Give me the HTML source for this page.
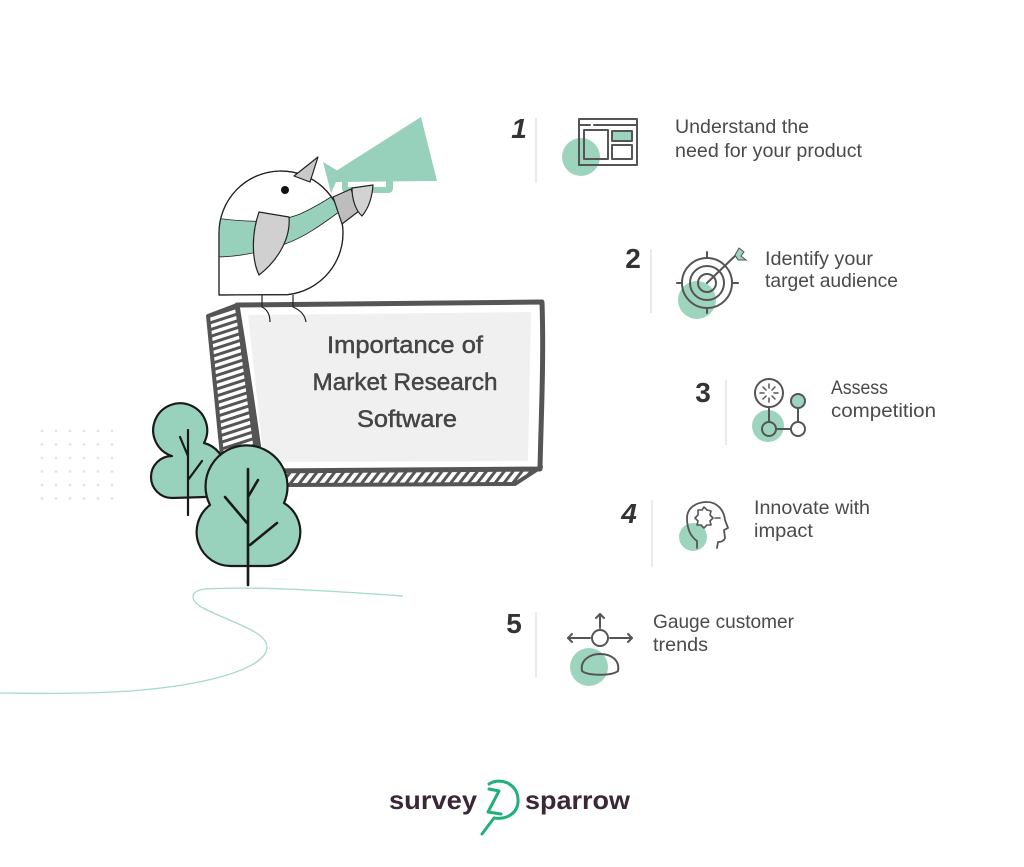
<!DOCTYPE html>
<html><head><meta charset="utf-8"><style>
html,body{margin:0;padding:0;background:#fff;}
svg{display:block;}
text{font-family:"Liberation Sans",sans-serif;}
</style></head><body>
<svg width="1024" height="867" viewBox="0 0 1024 867" xmlns="http://www.w3.org/2000/svg">
<defs>
<pattern id="hL" width="10" height="6.5" patternUnits="userSpaceOnUse" patternTransform="rotate(-18)"><rect width="10" height="6.5" fill="#fff"/><rect width="10" height="3" fill="#555"/></pattern>
<pattern id="hB" width="7" height="10" patternUnits="userSpaceOnUse" patternTransform="rotate(38)"><rect width="7" height="10" fill="#fff"/><rect width="3" height="10" fill="#555"/></pattern>
<clipPath id="body"><path d="M219,295 L219,233 A62,62 0 1 1 288,294.6 L219,295 Z"/></clipPath>
</defs>
<rect width="1024" height="867" fill="#fff"/>

<!-- dot grid -->
<g fill="#e4e4e4">
<circle cx="42" cy="431" r="1.4"/><circle cx="56" cy="431" r="1.4"/><circle cx="70" cy="431" r="1.4"/><circle cx="84" cy="431" r="1.4"/><circle cx="98" cy="431" r="1.4"/><circle cx="112" cy="431" r="1.4"/>
<circle cx="42" cy="444.5" r="1.4"/><circle cx="56" cy="444.5" r="1.4"/><circle cx="70" cy="444.5" r="1.4"/><circle cx="84" cy="444.5" r="1.4"/><circle cx="98" cy="444.5" r="1.4"/><circle cx="112" cy="444.5" r="1.4"/>
<circle cx="42" cy="458" r="1.4"/><circle cx="56" cy="458" r="1.4"/><circle cx="70" cy="458" r="1.4"/><circle cx="84" cy="458" r="1.4"/><circle cx="98" cy="458" r="1.4"/><circle cx="112" cy="458" r="1.4"/>
<circle cx="42" cy="471.5" r="1.4"/><circle cx="56" cy="471.5" r="1.4"/><circle cx="70" cy="471.5" r="1.4"/><circle cx="84" cy="471.5" r="1.4"/><circle cx="98" cy="471.5" r="1.4"/><circle cx="112" cy="471.5" r="1.4"/>
<circle cx="42" cy="485" r="1.4"/><circle cx="56" cy="485" r="1.4"/><circle cx="70" cy="485" r="1.4"/><circle cx="84" cy="485" r="1.4"/><circle cx="98" cy="485" r="1.4"/><circle cx="112" cy="485" r="1.4"/>
<circle cx="42" cy="498.5" r="1.4"/><circle cx="56" cy="498.5" r="1.4"/><circle cx="70" cy="498.5" r="1.4"/><circle cx="84" cy="498.5" r="1.4"/><circle cx="98" cy="498.5" r="1.4"/><circle cx="112" cy="498.5" r="1.4"/>
</g>

<!-- green ground curve -->
<path d="M403,596 C330,591 260,586 205,589 C188,591 190,602 205,609 C235,624 268,632 267,648 C265,668 210,685 130,691 C70,695 20,693 0,693" fill="none" stroke="#a6dbc7" stroke-width="1.3"/>

<!-- sign -->
<polygon points="208,316 237,305 256,452 222,456" fill="url(#hL)" stroke="#555" stroke-width="4" stroke-linejoin="round"/>
<polygon points="268,470 541,467 515,484 285,485" fill="url(#hB)" stroke="#555" stroke-width="4" stroke-linejoin="round"/>
<path d="M237,305 L542,302 C544,360 541,420 540,469 L262,471 C255,420 246,360 237,305 Z" fill="#fff" stroke="#555" stroke-width="5" stroke-linejoin="round"/>
<polygon points="248,315 531,312 528,461 264,462" fill="#f0f0f0"/>
<g fill="#454545" stroke="#454545" stroke-width="0.5" font-size="24.5" text-anchor="middle">
<text x="405" y="353" textLength="156" lengthAdjust="spacingAndGlyphs">Importance of</text>
<text x="405" y="390" textLength="185" lengthAdjust="spacingAndGlyphs">Market Research</text>
<text x="407" y="427" textLength="100" lengthAdjust="spacingAndGlyphs">Software</text>
</g>

<!-- bird -->
<g stroke="#222" stroke-width="1.2" stroke-linejoin="round">
<polygon points="336,171 421,117 437,181 336,182" fill="#97d1bb" stroke="none"/>
<polygon points="323,162 338,171 336,182 331,193" fill="#97d1bb" stroke="none"/>
<path d="M342,181 L342,188 Q342,193 347,193 L388,193 Q393,193 393,188 L393,181 L386,181 L386,187 L348,187 L348,181 Z" fill="#97d1bb" stroke="none"/>
<path d="M219,295 L219,233 A62,62 0 1 1 288,294.6 L219,295 Z" fill="#fff"/>
<path clip-path="url(#body)" d="M215,218 C245,222 275,224 300,214 C320,205 335,195 350,184 L350,204 C330,218 310,235 285,244 C260,252 240,257 215,257 Z" fill="#97d1bb" stroke="none"/>
<path clip-path="url(#body)" d="M215,218 C245,222 275,224 300,214 C320,205 335,195 350,184 M350,204 C330,218 310,235 285,244 C260,252 240,257 215,257" fill="none" stroke-width="0.8"/>
<path d="M219,295 L219,233 A62,62 0 1 1 288,294.6 L219,295 Z" fill="none"/>
<polygon points="333,197 351,189 359,211 342,224" fill="#bdbdbd"/>
<path d="M352,188 L373,185 C372,200 367,210 362,216 C355,210 352,198 352,188 Z" fill="#d2d2d2"/>
<polygon points="294,176 318,157 310,182" fill="#c8c8c8"/>
<path d="M259,212 L289,217 C291,240 276,262 259,275 C251,258 252,232 259,212 Z" fill="#d0d0d0"/>
<circle cx="285" cy="190" r="4" fill="#111" stroke="none"/>
<path d="M262,295 L262,307 C268,310 270,315 270,322 M293,295 L293,307 C300,310 305,315 306,322" fill="none"/>
</g>

<!-- trees -->
<g stroke="#1a1a1a" stroke-width="2.2" stroke-linejoin="round" stroke-linecap="round">
<path d="M172,456 A27,27 0 1 1 204,443 A28,28 0 0 1 205,497 L172,498 A21,21 0 0 1 172,456 Z" fill="#99d2bc"/>
<path d="M188,430 L188,515 M180,437 L188,456 M202,461 L188,480" fill="none"/>
<path d="M210,505 A41,41 0 1 1 284,503 A34,34 0 0 1 265,566 L232,566 A34,34 0 0 1 210,505 Z" fill="#99d2bc"/>
<path d="M248,469 L248,585 M225,497 L247,523 M258,480 L248,497 M277,523 L250,545" fill="none" stroke-width="2.6"/>
</g>

<!-- dividers -->
<g stroke="#dcdcdc" stroke-width="1.2">
<line x1="536" y1="118" x2="536" y2="183"/>
<line x1="651" y1="249" x2="651" y2="313"/>
<line x1="726" y1="380" x2="726" y2="445"/>
<line x1="652" y1="500" x2="652" y2="567"/>
<line x1="536" y1="612" x2="536" y2="677"/>
</g>

<!-- numbers -->
<g fill="#333" font-size="28" font-weight="bold" text-anchor="middle">
<text x="519" y="138" font-style="italic">1</text>
<text x="633" y="268">2</text>
<text x="703" y="402">3</text>
<text x="629" y="523" font-style="italic">4</text>
<text x="514" y="633">5</text>
</g>

<!-- green blobs -->
<g fill="#9dd4be">
<circle cx="581" cy="157" r="19"/>
<circle cx="697" cy="300" r="19"/>
<circle cx="768" cy="426" r="16"/>
<circle cx="693" cy="537" r="14"/>
<circle cx="589" cy="667" r="19"/>
</g>

<!-- icons -->
<g fill="none" stroke="#555" stroke-width="2" stroke-linecap="round" stroke-linejoin="round">
<!-- 1 browser -->
<rect x="579" y="119" width="58" height="46"/>
<line x1="579" y1="125" x2="590" y2="125"/><line x1="594" y1="125" x2="637" y2="125"/>
<rect x="584" y="130" width="24" height="29"/>
<rect x="612" y="131" width="20" height="10" fill="#9dd4be"/>
<rect x="612" y="145" width="20" height="14"/>
<!-- 2 target -->
<circle cx="707" cy="283" r="25"/>
<circle cx="707" cy="283" r="17"/>
<circle cx="707" cy="283" r="9"/>
<line x1="707" y1="252" x2="707" y2="258"/><line x1="707" y1="308" x2="707" y2="313"/>
<line x1="677" y1="283" x2="682" y2="283"/><line x1="732" y1="283" x2="738" y2="283"/>
<line x1="707" y1="283" x2="736" y2="255"/>
<!-- 3 competition -->
<circle cx="769" cy="393" r="14" fill="#fff"/>
<line x1="769" y1="407" x2="769" y2="422"/><line x1="776" y1="429" x2="791" y2="429"/><line x1="798" y1="408" x2="798" y2="422"/>
<circle cx="798" cy="401" r="7" fill="#9dd4be"/>
<circle cx="769" cy="429" r="7"/>
<circle cx="798" cy="429" r="7" fill="#fff"/>
<g stroke-width="1.5">
<line x1="769" y1="384" x2="769" y2="388"/><line x1="769" y1="398" x2="769" y2="402"/>
<line x1="760" y1="393" x2="764" y2="393"/><line x1="774" y1="393" x2="778" y2="393"/>
<line x1="763" y1="387" x2="766" y2="390"/><line x1="772" y1="396" x2="775" y2="399"/>
<line x1="775" y1="387" x2="772" y2="390"/><line x1="766" y1="396" x2="763" y2="399"/>
</g>
<!-- 4 head -->
<path d="M697,548 L697,541 C690,536 687,528 687,518 C687,508 696,502 707,502 C717,502 724,510 725,520 L728,528 L724,530 L725,538 C724,541 721,542 718,542 L717,548" stroke-width="1.8"/>
<path d="M698,510 L702,510 L704,507 L707,510 L711,511 L710,515 L713,518 L710,521 L711,525 L707,525 L704,528 L701,525 L697,525 L698,521 L695,518 L698,515 Z" stroke-width="1.6"/>
<line x1="715" y1="518" x2="720" y2="518" stroke-width="1.6"/>
<!-- 5 person -->
<circle cx="600" cy="638" r="8"/>
<path d="M582,671 C580,660 590,654 600,654 C611,654 620,660 618,671 C612,676 588,676 582,671 Z"/>
<line x1="600" y1="628" x2="600" y2="614"/><polyline points="596,618 600,614 604,618"/>
<line x1="590" y1="638" x2="568" y2="638"/><polyline points="572,634 568,638 572,642"/>
<line x1="610" y1="638" x2="632" y2="638"/><polyline points="628,634 632,638 628,642"/>
</g>
<polygon points="735,255 739,248 744,252 741,256 746,260 738,260" fill="#9dd4be" stroke="#555" stroke-width="1"/>

<!-- item texts -->
<g fill="#4a4a4a" font-size="19.5">
<text x="675" y="133" textLength="134" lengthAdjust="spacingAndGlyphs">Understand the</text>
<text x="675" y="157" textLength="187" lengthAdjust="spacingAndGlyphs">need for your product</text>
<text x="765" y="265" textLength="108" lengthAdjust="spacingAndGlyphs">Identify your</text>
<text x="765" y="287" textLength="133" lengthAdjust="spacingAndGlyphs">target audience</text>
<text x="831" y="394" textLength="57" lengthAdjust="spacingAndGlyphs">Assess</text>
<text x="831" y="417" textLength="105" lengthAdjust="spacingAndGlyphs">competition</text>
<text x="754" y="514" textLength="116" lengthAdjust="spacingAndGlyphs">Innovate with</text>
<text x="754" y="537" textLength="59" lengthAdjust="spacingAndGlyphs">impact</text>
<text x="653" y="628" textLength="141" lengthAdjust="spacingAndGlyphs">Gauge customer</text>
<text x="653" y="651" textLength="55" lengthAdjust="spacingAndGlyphs">trends</text>
</g>

<!-- logo -->
<g fill="#3b2836" font-size="26" font-weight="bold">
<text x="389" y="809" textLength="88" lengthAdjust="spacingAndGlyphs">survey</text>
<text x="525" y="809" textLength="105" lengthAdjust="spacingAndGlyphs">sparrow</text>
</g>
<g fill="none" stroke="#20b07a" stroke-width="3" stroke-linecap="round" stroke-linejoin="round">
<path d="M489,784 C500,777 517,783 518,799 C519,812 508,820 494,818 L482,834"/>
<path d="M489,789 L499,791 L488,812 L501,814"/>
</g>
</svg>
</body></html>
